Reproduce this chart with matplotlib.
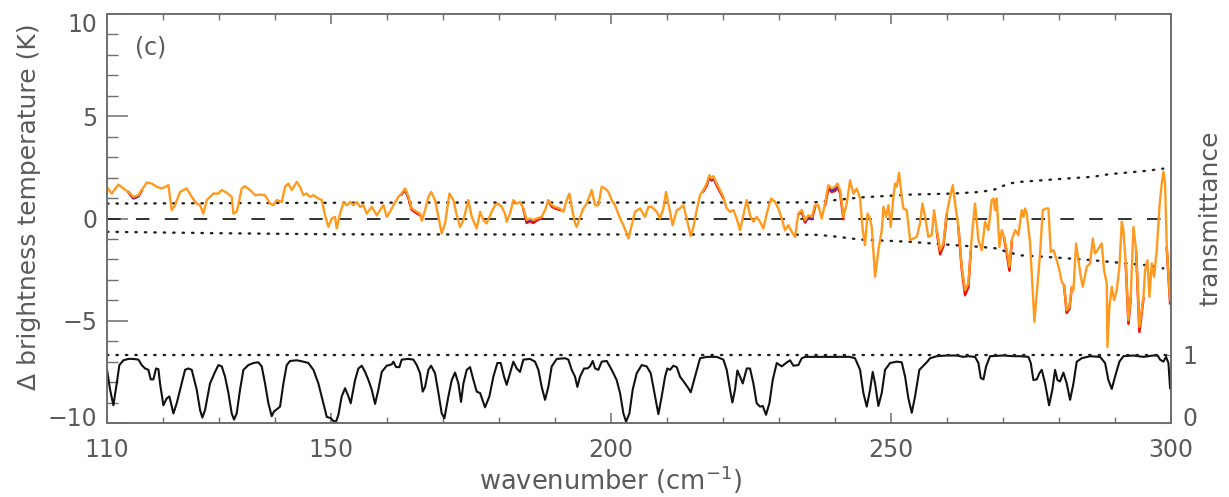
import numpy as np
import matplotlib
matplotlib.use("Agg")
import matplotlib.pyplot as plt
import matplotlib.transforms as mtransforms
from matplotlib.ticker import MultipleLocator, FixedLocator

# ---------------- data ----------------
# Δ brightness temperature (orange, top-most series)
dT_wn = [110.0, 110.83, 112.02, 112.92, 113.81, 114.70, 115.60, 116.19, 117.08, 117.98,
         118.87, 119.76, 120.65, 120.95, 121.55, 122.14, 123.04, 123.63, 124.23, 125.12,
         126.01, 126.61, 127.20, 127.80, 128.99, 129.88, 130.48, 131.37, 132.26, 132.56,
         133.15, 134.05, 134.64, 135.54, 136.43, 137.32, 138.21, 139.11, 139.70, 140.30,
         141.19, 141.79, 142.38, 142.98, 143.87, 144.46, 145.06, 145.65, 146.25, 146.85,
         147.74, 148.33, 148.93, 149.52, 150.12, 150.71, 151.01, 151.61, 152.20, 152.80,
         153.39, 153.99, 154.58, 155.18, 155.77, 156.37, 157.26, 158.15, 158.75, 159.35,
         159.94, 160.54, 161.13, 162.02, 162.62, 163.21, 163.81, 164.40, 165.30, 165.89,
         166.19, 166.79, 167.38, 167.86, 168.57, 169.17, 169.76, 170.36, 171.13, 171.85,
         172.44, 173.04, 173.63, 174.52, 175.12, 176.01, 176.61, 177.20,
         177.79, 178.68, 179.28, 179.87, 180.47, 181.06, 181.36, 181.96, 182.55, 183.15,
         183.74, 184.34, 184.93, 185.53, 186.12, 186.72, 187.61, 188.21, 188.80, 189.40,
         189.99, 190.89, 191.48, 192.08, 192.55, 192.97, 193.56, 193.86, 194.46, 195.05,
         195.65, 196.54, 197.14, 197.73, 198.33, 198.92, 199.52, 200.11, 200.71, 201.60,
         202.20, 202.79, 203.09, 203.68, 204.28, 205.17, 206.06, 206.66, 207.25, 208.15,
         208.74, 209.34, 209.81, 210.41, 211.00, 211.72, 212.31, 212.91, 213.50, 214.22,
         214.70, 215.29, 215.89, 216.48, 217.08, 217.55, 217.97, 218.27, 218.86, 219.46,
         220.05, 220.65, 221.24, 221.84, 222.43, 223.03, 223.62, 224.22, 224.81, 225.41,
         226.00, 226.60, 227.19, 227.79, 228.56, 229.28, 229.87, 230.47, 231.06, 231.66,
         232.25, 232.85, 233.44, 234.04, 234.64, 235.23, 235.83, 236.42, 237.02, 237.61,
         238.21, 238.80, 239.40, 239.99, 240.41, 240.89, 241.48, 242.08, 242.67, 243.27,
         243.86,
         244.46, 244.94, 245.35, 245.77, 246.13, 246.54, 247.14, 247.73, 248.33, 248.63,
         249.10, 249.52, 249.94, 250.41, 250.71, 251.01, 251.42, 251.90, 252.20, 252.79,
         253.39, 253.98, 254.58, 255.17, 255.59, 256.07, 256.66, 257.26, 257.67, 258.15,
         258.75, 259.34, 259.94, 260.53, 261.01, 261.42, 262.02, 262.61, 263.21, 263.80,
         264.22, 264.70, 264.99, 265.59, 266.19, 266.78, 267.38, 267.97, 268.27, 268.57,
         268.86, 269.34, 269.76, 270.17, 270.65, 271.13, 271.54, 272.14, 272.73, 273.33,
         273.63, 273.92, 274.22, 274.82, 275.29, 275.59, 276.01, 276.60, 277.08, 277.67,
         278.09, 278.51, 278.98, 279.58, 280.06, 280.47, 280.89, 281.36, 281.84, 282.26,
         282.56, 283.03, 283.45, 283.87, 284.22, 284.94, 285.53, 286.01, 286.42, 287.02,
         287.61, 288.03, 288.51, 288.63, 288.98, 289.40, 289.82, 290.29, 290.77, 291.19,
         291.48, 291.90, 292.38, 292.79, 293.27, 293.75, 294.34, 294.76, 295.06, 295.35,
         295.77, 296.13, 296.54, 296.96, 297.44, 297.91, 298.33, 298.63, 298.92, 299.22,
         299.52, 299.82]
dT_orange = [1.52, 1.22, 1.66, 1.47, 1.30, 1.06, 1.14, 1.39, 1.76, 1.71,
             1.55, 1.47, 1.58, 1.63, 0.41, 0.65, 1.30, 1.39, 1.47, 1.06,
             0.73, 0.65, 0.24, 0.90, 1.22, 1.22, 1.39, 1.26, 1.06, 0.24,
             0.33, 1.47, 1.58, 1.39, 1.14, 1.17, 1.14, 0.73, 0.65, 0.90,
             0.81, 1.55, 1.71, 1.39, 1.79, 1.55, 1.14, 1.22, 1.06, 1.14,
             0.98, 0.90, 0.16, -0.41, 0.00, 0.08, -0.49, 0.24, 0.77, 0.65,
             0.81, 0.65, 0.81, 0.57, 0.65, 0.24, 0.57, 0.16, 0.41, 0.65,
             0.08, 0.33, 0.65, 1.06, 1.22, 1.47, 1.06, 0.49, 0.33, 0.24,
             -0.11, 0.41, 1.06, 1.30, 0.90, 0.08, -0.73, -0.24, 1.22, 0.90,
             0.16, -0.41, -0.08, 0.90, 0.08, -0.49, 0.33, -0.08,
             -0.24, 0.33, 0.65, 0.73, 0.57, 0.24, -0.16, 0.24, 0.90, 0.73,
             0.81, 0.49, -0.08, 0.00, -0.08, 0.00, 0.08, 0.41, 0.90, 0.65,
             0.57, 0.49, 0.33, 0.90, 1.22, 0.57, -0.24, -0.41, 0.08, 0.49,
             0.73, 1.39, 0.65, 0.65, 1.55, 1.47, 1.30, 0.90, 0.65, 0.00,
             -0.33, -0.73, -0.98, -0.33, 0.33, 0.49, 0.08, 0.57, 0.57, 0.33,
             0.00, 0.49, 1.30, 0.49, -0.33, 0.41, 0.49, 0.65, 0.00, -0.86,
             -0.41, 0.41, 1.14, 1.39, 1.71, 2.12, 1.96, 2.07, 1.71, 1.39,
             1.06, 0.49, 0.33, 0.41, 0.00, -0.57, 0.16, 0.90, 0.16, -0.16,
             0.08, -0.16, -0.49, 0.24, 0.98, 0.81, 0.49, 0.00, -0.57, -0.33,
             -0.65, -0.90, 0.24, 0.41, -0.08, 0.16, 0.08, 0.65, 0.65, 0.00,
             0.73, 1.63, 1.47, 1.55, 1.71, 1.39, 0.08, 0.73, 1.87, 1.22,
             1.47,
             0.98, -0.57, -1.30, 0.24, 0.08, -0.41, -2.85, -1.55, -0.57, 0.57,
             0.08, 0.65, -0.41, 1.06, 1.71, 1.55, 2.23, 1.06, 0.49, 0.41,
             -1.06, -0.98, -0.90, -0.24, 0.73, 0.08, -0.90, -0.81, 0.41, -0.57,
             -1.55, -1.22, 0.24, 1.06, 1.63, 0.73, -0.41, -2.36, -3.50, -3.18,
             -1.55, 0.00, 0.73, -1.06, -1.55, -0.16, -0.57, 0.90, 0.98, 0.41,
             0.98, -1.39, -0.57, -0.90, -1.55, -2.36, -1.06, -0.57, -0.81, 0.41,
             0.08, 0.49, 0.24, -1.22, -3.50, -5.05, -3.67, -1.71, 0.41, 0.49,
             0.49, -1.63, -1.55, -2.04, -2.53, -3.10, -3.26, -4.48, -4.32, -3.34,
             -3.50, -1.22, -2.04, -2.85, -3.34, -2.36, -2.20, -0.98, -1.71, -1.47,
             -1.22, -2.53, -3.18, -6.28, -4.32, -3.34, -3.99, -3.50, -2.36, -0.16,
             -0.57, -2.20, -4.97, -3.83, -0.41, -1.55, -5.30, -4.48, -3.83, -2.53,
             -2.04, -3.83, -2.20, -2.85, -1.55, 0.57, 1.71, 2.28, 1.71, -1.39,
             -2.69, -3.99]

# red and blue series: drawn from the picture where they separate from orange
red_segments = [
    ([113.81, 114.70, 115.60, 116.19], [1.28, 0.98, 1.08, 1.36]),
    ([162.62, 163.21, 163.81, 164.40, 165.30, 165.89], [1.18, 1.40, 1.00, 0.42, 0.26, 0.16]),
    ([184.34, 184.93, 185.53, 186.12, 186.72, 187.61], [0.45, -0.22, -0.14, -0.22, -0.10, 0.04]),
    ([188.80, 189.40, 189.99, 190.89], [0.85, 0.58, 0.50, 0.42]),
    ([216.48, 217.08, 217.55, 217.97, 218.27, 218.86, 219.46, 220.05],
     [1.33, 1.62, 2.02, 1.86, 1.97, 1.62, 1.30, 1.00]),
    ([233.44, 234.04, 234.64, 235.23, 235.83, 236.42], [0.20, 0.33, -0.20, 0.04, -0.04, 0.55]),
    ([238.21, 238.80, 239.40, 239.99, 240.41, 240.89, 241.48],
     [0.65, 1.45, 1.30, 1.35, 1.55, 1.25, -0.02]),
    ([258.15, 258.75, 259.34, 259.94], [-0.62, -1.75, -1.35, 0.20]),
    ([262.02, 262.61, 263.21, 263.80, 264.22], [-0.45, -2.45, -3.75, -3.35, -1.60]),
    ([270.17, 270.65, 271.13, 271.54], [-0.95, -1.70, -2.55, -1.15]),
    ([280.89, 281.36, 281.84, 282.26], [-3.30, -4.62, -4.42, -3.40]),
    ([291.90, 292.38, 292.79], [-2.25, -5.15, -3.90]),
    ([293.75, 294.34, 294.76, 295.06], [-1.60, -5.55, -4.60, -3.90]),
    ([299.22, 299.52, 299.82], [-1.45, -2.80, -4.15]),
]
blue_segments = [
    ([113.81, 114.70, 115.60], [1.29, 1.01, 1.11]),
    ([162.62, 163.21, 163.81], [1.20, 1.43, 1.03]),
    ([184.93, 185.53, 186.12], [-0.13, -0.06, -0.13]),
    ([217.08, 217.55, 217.97, 218.27, 218.86], [1.66, 2.06, 1.90, 2.01, 1.66]),
    ([234.04, 234.64, 235.23, 235.83], [0.37, -0.13, 0.10, 0.03]),
    ([238.80, 239.40, 239.99, 240.41], [1.55, 1.38, 1.45, 1.62]),
]

# dotted envelopes
env_wn = [110, 130, 150, 170, 190, 210, 230, 237, 240, 244.5, 253.4, 261.1, 266.0, 268.5,
          271.0, 273.0, 280.0, 286.0, 289.0, 295.6, 298.6]
env_upper = [0.73, 0.75, 0.77, 0.78, 0.78, 0.78, 0.78, 0.80, 0.90, 1.03, 1.17, 1.22, 1.30, 1.42,
             1.71, 1.79, 1.93, 2.04, 2.17, 2.33, 2.44]
env_lower = [-0.65, -0.72, -0.77, -0.78, -0.78, -0.78, -0.78, -0.80, -0.88, -1.03, -1.14, -1.30,
             -1.39, -1.45, -1.65, -1.80, -1.92, -2.04, -2.12, -2.28, -2.44]

# transmittance (right axis)
tr_wn = [110.0, 110.54, 111.13, 111.73, 112.20, 112.92, 113.81, 114.70, 115.60, 116.19,
         116.79, 117.38, 117.80, 118.27, 118.75, 119.17, 119.46, 120.06, 120.65, 121.13,
         121.85, 122.44, 123.33, 123.93, 124.52, 125.12, 126.01, 126.61, 127.02, 127.50,
         128.39, 129.29, 129.88, 130.48, 131.07, 131.67, 132.26, 132.68, 133.15, 133.75,
         134.35, 135.24, 136.13, 137.02, 137.62, 138.21, 138.81, 139.40, 139.82, 140.30,
         140.89, 141.49, 142.08, 142.68, 143.87, 145.06, 145.95, 146.85, 147.74, 148.63,
         149.23, 149.94, 150.42, 150.89, 151.31, 151.90, 152.50, 153.10, 153.51, 154.29,
         154.88, 155.48, 156.07, 156.67, 157.26, 157.86, 158.45, 159.05, 159.94, 160.83,
         161.13, 161.61, 162.20, 162.62, 163.81, 164.70, 165.30, 165.89, 166.37, 166.79,
         167.38, 167.86, 168.57, 169.17, 169.76, 170.24, 170.95, 171.55, 172.14, 172.74,
         173.21, 173.63, 174.23, 174.82, 175.42, 176.01, 176.61,
         177.49, 178.27, 178.98, 179.70, 180.29, 180.89, 181.36, 181.96, 182.55, 183.15,
         183.74, 184.34, 185.53, 186.42, 187.02, 187.61, 188.21, 188.80, 189.40, 190.29,
         191.78, 192.37, 192.97, 193.56, 193.98, 194.46, 195.17, 195.77, 196.24, 196.72,
         197.14, 197.73, 198.33, 199.22, 200.11, 201.00, 201.60, 202.20, 202.67, 203.27,
         203.86, 204.58, 205.47, 206.36, 207.08, 207.85, 208.45, 209.04, 209.64, 210.05,
         210.53, 211.12, 211.72, 212.31, 213.21, 213.80, 214.22, 214.99, 215.89, 217.08,
         218.86, 220.05, 220.65, 221.24, 221.66, 222.13, 222.55, 223.03, 223.51, 224.22,
         224.81, 225.41, 226.00, 226.60, 227.08, 227.67, 228.27, 228.86, 229.58, 230.47,
         231.24, 231.96, 232.55, 233.44, 234.04, 234.64, 239.10, 242.67, 243.56,
         244.46, 245.05, 245.65, 246.25, 246.72, 247.14, 247.73, 248.33, 248.92, 249.82,
         251.01, 251.90, 252.50, 253.09, 253.69, 254.28, 255.05, 255.77, 256.36, 256.96,
         258.15, 259.94, 261.72, 262.91, 263.80, 265.00, 265.59, 266.01, 266.49, 266.96,
         267.67, 270.06, 271.84, 273.03, 274.52, 274.94, 275.41, 276.01, 276.48, 276.90,
         277.50, 278.21, 278.80, 279.28, 279.70, 280.17, 280.77, 281.36, 281.96, 282.56,
         283.15, 284.04, 285.53, 287.32, 288.21, 288.80, 289.40, 289.99, 290.77, 291.48,
         293.27, 295.06, 296.84, 297.61, 298.03, 298.63, 299.10, 299.52, 299.82]
tr_val = [0.78, 0.49, 0.26, 0.58, 0.85, 0.92, 0.94, 0.94, 0.93, 0.85,
          0.80, 0.78, 0.64, 0.64, 0.80, 0.79, 0.58, 0.26, 0.36, 0.39,
          0.14, 0.29, 0.58, 0.78, 0.80, 0.78, 0.49, 0.19, 0.08, 0.19,
          0.58, 0.75, 0.85, 0.83, 0.68, 0.44, 0.14, 0.05, 0.14, 0.49,
          0.78, 0.85, 0.88, 0.89, 0.83, 0.58, 0.29, 0.10, 0.17, 0.20,
          0.24, 0.58, 0.85, 0.91, 0.92, 0.90, 0.88, 0.78, 0.58, 0.29,
          0.09, 0.07, 0.03, 0.02, 0.12, 0.39, 0.51, 0.39, 0.29, 0.63,
          0.80, 0.84, 0.75, 0.63, 0.49, 0.28, 0.49, 0.75, 0.84, 0.86,
          0.90, 0.82, 0.82, 0.93, 0.94, 0.93, 0.85, 0.73, 0.46, 0.53,
          0.78, 0.84, 0.73, 0.44, 0.14, 0.07, 0.39, 0.63, 0.74, 0.58,
          0.31, 0.58, 0.78, 0.82, 0.63, 0.46, 0.44,
          0.23, 0.39, 0.68, 0.88, 0.88, 0.68, 0.56, 0.73, 0.90, 0.80,
          0.75, 0.93, 0.94, 0.90, 0.78, 0.53, 0.34, 0.53, 0.83, 0.94,
          0.95, 0.93, 0.78, 0.68, 0.53, 0.68, 0.80, 0.80, 0.83, 0.91,
          0.80, 0.78, 0.90, 0.91, 0.78, 0.63, 0.44, 0.14, 0.02, 0.14,
          0.49, 0.73, 0.85, 0.83, 0.73, 0.39, 0.13, 0.39, 0.68, 0.80,
          0.78, 0.84, 0.82, 0.68, 0.58, 0.51, 0.45, 0.68, 0.95, 0.97,
          0.97, 0.93, 0.78, 0.49, 0.30, 0.49, 0.77, 0.68, 0.58, 0.80,
          0.80, 0.58, 0.29, 0.24, 0.25, 0.12, 0.29, 0.63, 0.88, 0.83,
          0.88, 0.92, 0.84, 0.85, 0.95, 0.97, 0.97, 0.97, 0.95,
          0.78, 0.44, 0.24, 0.49, 0.75, 0.58, 0.25, 0.44, 0.78, 0.88,
          0.90, 0.89, 0.68, 0.36, 0.15, 0.39, 0.78, 0.84, 0.89, 0.95,
          0.98, 0.99, 0.99, 0.97, 0.98, 0.97, 0.88, 0.66, 0.64, 0.83,
          0.98, 0.99, 0.98, 0.98, 0.97, 0.88, 0.63, 0.64, 0.73, 0.78,
          0.58, 0.26, 0.49, 0.78, 0.63, 0.61, 0.74, 0.58, 0.34, 0.58,
          0.90, 0.95, 0.98, 0.97, 0.88, 0.63, 0.50, 0.68, 0.90, 0.98,
          0.99, 0.97, 0.99, 0.99, 0.93, 0.90, 0.97, 0.88, 0.51]

x_major = [110, 150, 200, 250, 300]
y_major = [-10, -5, 0, 5, 10]
y_labels = ["\u221210", "\u22125", "0", "5", "10"]
tr_ticks = [0, 1]

# ---------------- figure ----------------
TXT = "#5a5a5a"
AXC = "#6e6e6e"
FS = 17
plt.rcParams["font.family"] = ["DejaVu Sans"]

fig = plt.figure(figsize=(12.29, 4.97), dpi=100)
ax = fig.add_axes([0.0871, 0.1489, 0.8658, 0.8229])
ax.set_xlim(110, 300)
ax.set_ylim(-10, 10)

ax.axhline(0, color="#222222", lw=1.3, dashes=(7.5, 8.5), zorder=2)
ax.plot(env_wn, env_upper, color="#222222", lw=1.7, linestyle=(0, (0.6, 3.4)),
        dash_capstyle="round", zorder=2)
ax.plot(env_wn, env_lower, color="#222222", lw=1.7, linestyle=(0, (0.6, 3.4)),
        dash_capstyle="round", zorder=2)

for wn, v in red_segments:
    ax.plot(wn, v, color="#ee1111", lw=1.8, solid_joinstyle="round", zorder=3)
for wn, v in blue_segments:
    ax.plot(wn, v, color="#2233dd", lw=1.6, solid_joinstyle="round", zorder=4)
ax.plot(dT_wn, dT_orange, color="#ff9a1e", lw=1.7, solid_joinstyle="round", zorder=5)

ax2 = ax.twinx()
ax2.set_ylim(0, 6.0)
ax2.plot(tr_wn, tr_val, color="#111111", lw=1.5, solid_joinstyle="round")
ax2.axhline(1.0, color="#222222", lw=1.7, linestyle=(0, (0.6, 3.4)), dash_capstyle="round")

# axes styling
for a in (ax, ax2):
    for s in a.spines.values():
        s.set_color(AXC)
        s.set_linewidth(1.2)

ax.xaxis.set_major_locator(FixedLocator(x_major))
ax.xaxis.set_minor_locator(MultipleLocator(10))
ax.yaxis.set_major_locator(FixedLocator(y_major))
ax.yaxis.set_minor_locator(MultipleLocator(1))
ax.tick_params(axis="x", which="both", direction="in", top=True, bottom=True,
               color=AXC, labelcolor=TXT, labelsize=FS, pad=11)
ax.tick_params(axis="x", which="major", length=7, width=1.1)
ax.tick_params(axis="x", which="minor", length=4, width=1.0)
ax.tick_params(axis="y", which="both", direction="in", left=True, right=False,
               color=AXC, labelcolor=TXT, labelsize=FS, pad=7)
ax.tick_params(axis="y", which="major", length=15, width=1.1)
ax.tick_params(axis="y", which="minor", length=8, width=1.0)
ax.set_yticklabels(y_labels)

ax2.yaxis.set_major_locator(FixedLocator(tr_ticks))
ax2.yaxis.set_minor_locator(FixedLocator([]))
ax2.tick_params(axis="y", which="both", direction="in", length=6, color=AXC,
                labelcolor=TXT, labelsize=FS, pad=8)

ax.set_xlabel("wavenumber (cm$^{-1}$)", fontsize=FS + 1.5, color=TXT)
ax.xaxis.set_label_coords(0.473, -0.10)
ax.set_ylabel("\u0394 brightness temperature (K)", fontsize=FS + 1, color=TXT)
ax.yaxis.set_label_coords(-0.062, 0.53)
ax2.set_ylabel("transmittance", fontsize=FS + 1, color=TXT)
ax2.yaxis.set_label_coords(1.026, 0.5)

ax.text(0.026, 0.917, "(c)", transform=ax.transAxes, fontsize=FS, color=TXT,
        va="center", ha="left")

# IDL-style: end labels of the left axis pulled inward a little
fig.canvas.draw()
for lab in ax.get_yticklabels():
    t = lab.get_text()
    if t == "10":
        lab.set_transform(lab.get_transform() +
                          mtransforms.ScaledTranslation(0, -8 / 100, fig.dpi_scale_trans))
    elif t == "\u221210":
        lab.set_transform(lab.get_transform() +
                          mtransforms.ScaledTranslation(0, 6 / 100, fig.dpi_scale_trans))
for lab in ax2.get_yticklabels():
    if lab.get_text() == "0":
        lab.set_transform(lab.get_transform() +
                          mtransforms.ScaledTranslation(0, 6 / 100, fig.dpi_scale_trans))

fig.savefig("out.png", dpi=100)
